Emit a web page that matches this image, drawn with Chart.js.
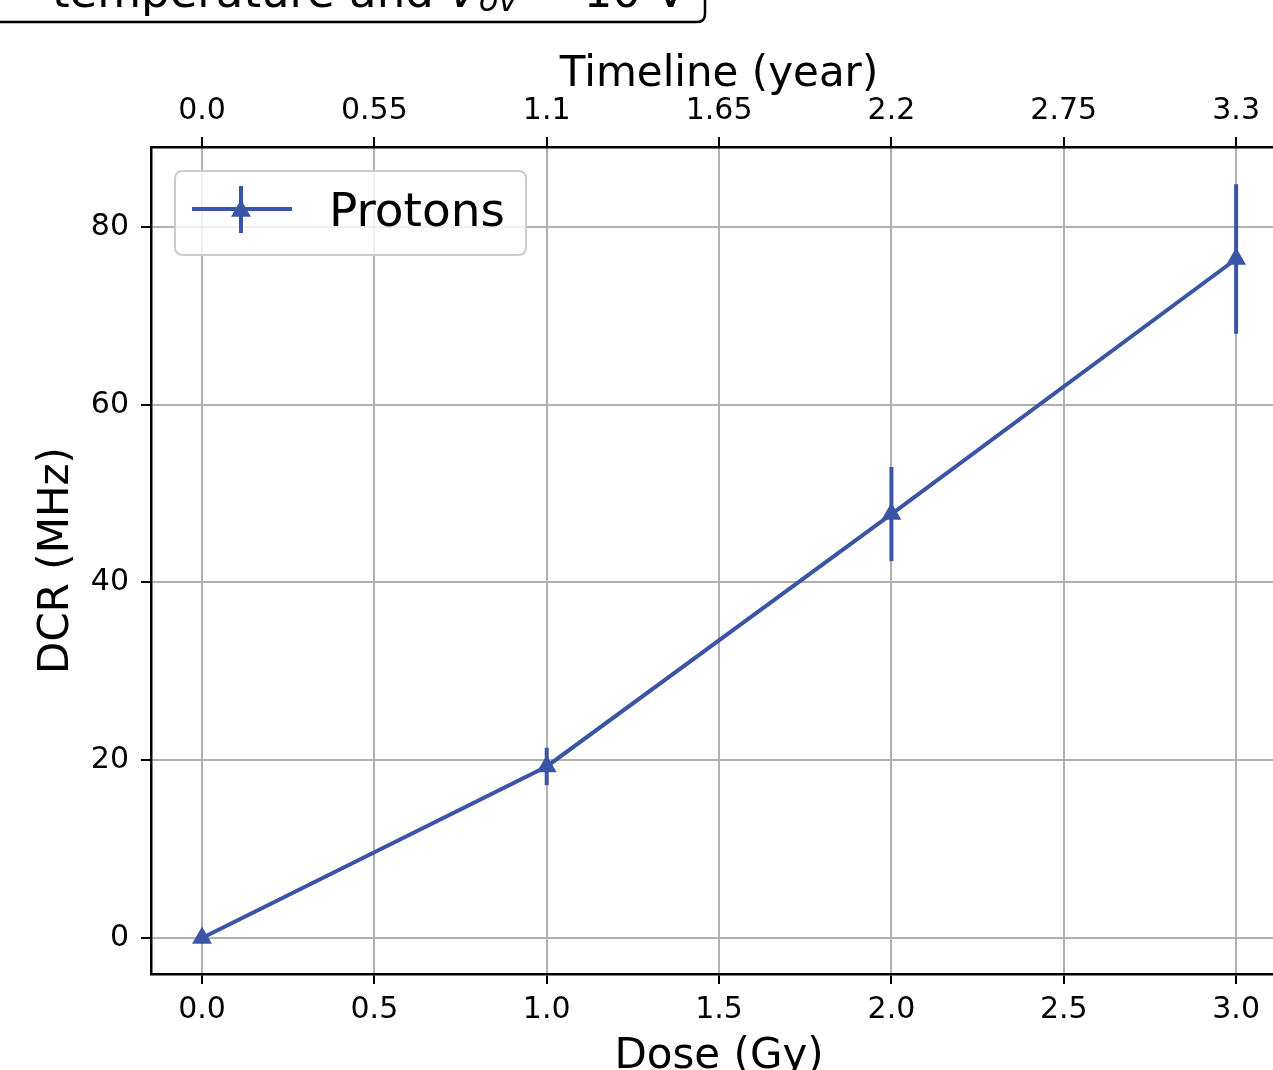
<!DOCTYPE html>
<html>
<head>
<meta charset="utf-8">
<title>DCR vs dose</title>
<script src="https://cdn.jsdelivr.net/npm/chart.js@4.4.1/dist/chart.umd.min.js"></script>
<style>
  html, body { margin: 0; padding: 0; background: #ffffff; }
  #wrap { width: 1273px; height: 1070px; }
</style>
</head>
<body>
<div id="wrap"><canvas id="dcr-chart" width="1273" height="1070"></canvas></div>
<script>
// data
const doseValues = [0, 1, 2, 3];
const dcrValues = [0, 19.3, 47.7, 76.4];
const dcrErrors = [0, 2.1, 5.3, 8.4];
const doseTicks = [0, 0.5, 1.0, 1.5, 2.0, 2.5, 3.0];
const timelineLabels = ['0.0', '0.55', '1.1', '1.65', '2.2', '2.75', '3.3'];
const dcrTicks = [0, 20, 40, 60, 80];
const seriesLabel = 'Protons';

const DOSE_MIN = -0.148;
const DOSE_MAX = 3.107;
const DOSE_MID = 1.5; // centre of the full (uncropped) axes
const DCR_MIN = -4.05;
const DCR_MAX = 89.0;

const FONT = '"DejaVu Sans", "Liberation Sans", sans-serif';
const LINE_COLOR = '#3a54a6';
const GRID_COLOR = '#b0b0b0';

// error bars, drawn through the chart scales
const errorBarPlugin = {
  id: 'errorBars',
  afterDatasetsDraw(chart) {
    const { ctx, scales: { x, y } } = chart;
    ctx.save();
    ctx.strokeStyle = LINE_COLOR;
    ctx.lineWidth = 4;
    doseValues.forEach((d, i) => {
      const err = dcrErrors[i];
      if (!err) return;
      const px = x.getPixelForValue(d);
      ctx.beginPath();
      ctx.moveTo(px, y.getPixelForValue(dcrValues[i] - err));
      ctx.lineTo(px, y.getPixelForValue(dcrValues[i] + err));
      ctx.stroke();
    });
    ctx.restore();
  }
};

// x axis titles, centred on the middle of the full axes
const axisTitlePlugin = {
  id: 'axisTitles',
  afterDraw(chart) {
    const { ctx, scales: { x } } = chart;
    const cx = x.getPixelForValue(DOSE_MID);
    ctx.save();
    ctx.fillStyle = '#000000';
    ctx.font = '42px ' + FONT;
    ctx.textAlign = 'center';
    ctx.textBaseline = 'middle';
    ctx.fillText('Timeline (year)', cx, 75);
    ctx.fillText('Dose (Gy)', cx, 1057);
    ctx.restore();
  }
};

function roundRect(ctx, x, y, w, h, r) {
  ctx.beginPath();
  ctx.moveTo(x + r, y);
  ctx.lineTo(x + w - r, y);
  ctx.quadraticCurveTo(x + w, y, x + w, y + r);
  ctx.lineTo(x + w, y + h - r);
  ctx.quadraticCurveTo(x + w, y + h, x + w - r, y + h);
  ctx.lineTo(x + r, y + h);
  ctx.quadraticCurveTo(x, y + h, x, y + h - r);
  ctx.lineTo(x, y + r);
  ctx.quadraticCurveTo(x, y, x + r, y);
  ctx.closePath();
}

// legend box in the upper left of the plot
const legendPlugin = {
  id: 'boxLegend',
  afterDraw(chart) {
    const { ctx } = chart;
    ctx.save();
    roundRect(ctx, 175, 171, 351, 84, 8);
    ctx.fillStyle = 'rgba(255,255,255,0.8)';
    ctx.fill();
    ctx.strokeStyle = '#cccccc';
    ctx.lineWidth = 2;
    ctx.stroke();

    ctx.strokeStyle = LINE_COLOR;
    ctx.lineWidth = 4;
    ctx.beginPath();
    ctx.moveTo(192, 209);
    ctx.lineTo(292, 209);
    ctx.moveTo(241, 186);
    ctx.lineTo(241, 233);
    ctx.stroke();
    ctx.fillStyle = LINE_COLOR;
    Chart.helpers.drawPoint(ctx, { pointStyle: 'triangle', radius: 11.5, borderWidth: 0 }, 241, 211);

    ctx.fillStyle = '#000000';
    ctx.font = '47px ' + FONT;
    ctx.textBaseline = 'alphabetic';
    ctx.fillText(seriesLabel, 329, 226);
    ctx.restore();
  }
};

// title box, mostly cut off by the top edge
const titlePlugin = {
  id: 'cutTitle',
  afterDraw(chart) {
    const { ctx } = chart;
    const pieces = [
      { text: 'temperature and ', font: '45px ' + FONT, dy: 0 },
      { text: 'V', font: 'italic 45px ' + FONT, dy: 0 },
      { text: 'ov', font: 'italic 32px ' + FONT, dy: 4 },
      { text: ' = 10 ', font: '45px ' + FONT, dy: 0 },
      { text: 'V', font: '45px ' + FONT, dy: 0 }
    ];
    ctx.save();
    let total = 0;
    pieces.forEach(p => { ctx.font = p.font; p.w = ctx.measureText(p.text).width; total += p.w; });
    let x = 686 - total;
    ctx.fillStyle = '#000000';
    ctx.textBaseline = 'alphabetic';
    pieces.forEach(p => {
      ctx.font = p.font;
      ctx.fillText(p.text, x, 7 + p.dy);
      x += p.w;
    });
    roundRect(ctx, -30, -80, 735, 102, 8);
    ctx.strokeStyle = '#000000';
    ctx.lineWidth = 2.5;
    ctx.stroke();
    ctx.restore();
  }
};

const gridOpts = {
  color: GRID_COLOR,
  lineWidth: 2,
  tickColor: '#000000',
  tickLength: 10,
  tickWidth: 2
};
const borderOpts = { display: true, color: '#000000', width: 2.5 };

function noEdgePadding(axis) {
  axis.paddingLeft = 0;
  axis.paddingRight = 0;
  axis.paddingTop = 0;
  axis.paddingBottom = 0;
}

new Chart(document.getElementById('dcr-chart'), {
  type: 'line',
  data: {
    datasets: [{
      label: seriesLabel,
      data: doseValues.map((d, i) => ({ x: d, y: dcrValues[i] })),
      borderColor: LINE_COLOR,
      backgroundColor: LINE_COLOR,
      borderWidth: 4,
      pointStyle: 'triangle',
      pointRadius: 11.5,
      pointBorderWidth: 0,
      pointBackgroundColor: LINE_COLOR,
      tension: 0,
      clip: false,
      xAxisID: 'x',
      yAxisID: 'y'
    }]
  },
  options: {
    responsive: false,
    animation: false,
    layout: { padding: 0, autoPadding: false },
    plugins: {
      legend: { display: false },
      tooltip: { enabled: false }
    },
    scales: {
      x: {
        type: 'linear',
        position: 'bottom',
        min: DOSE_MIN,
        max: DOSE_MAX,
        afterBuildTicks: axis => { axis.ticks = doseTicks.map(v => ({ value: v })); },
        afterFit: axis => { axis.height = 96; noEdgePadding(axis); },
        ticks: {
          color: '#000000',
          font: { family: FONT, size: 30 },
          padding: 8,
          maxRotation: 0,
          callback: v => Number(v).toFixed(1)
        },
        grid: gridOpts,
        border: borderOpts
      },
      x2: {
        type: 'linear',
        axis: 'x',
        position: 'top',
        min: DOSE_MIN,
        max: DOSE_MAX,
        afterBuildTicks: axis => { axis.ticks = doseTicks.map(v => ({ value: v })); },
        afterFit: axis => { axis.height = 147; noEdgePadding(axis); },
        ticks: {
          color: '#000000',
          font: { family: FONT, size: 30 },
          padding: 8,
          maxRotation: 0,
          callback: (v, i) => timelineLabels[i]
        },
        grid: { ...gridOpts, drawOnChartArea: false },
        border: borderOpts
      },
      y: {
        type: 'linear',
        position: 'left',
        min: DCR_MIN,
        max: DCR_MAX,
        afterBuildTicks: axis => { axis.ticks = dcrTicks.map(v => ({ value: v })); },
        afterFit: axis => { axis.width = 151; noEdgePadding(axis); },
        ticks: {
          color: '#000000',
          font: { family: FONT, size: 30 },
          padding: 12,
          callback: v => String(v)
        },
        grid: gridOpts,
        border: borderOpts,
        title: {
          display: true,
          text: 'DCR (MHz)',
          color: '#000000',
          font: { family: FONT, size: 42 },
          padding: { top: 32, bottom: 0 }
        }
      }
    }
  },
  plugins: [errorBarPlugin, axisTitlePlugin, legendPlugin, titlePlugin]
});
</script>
</body>
</html>
